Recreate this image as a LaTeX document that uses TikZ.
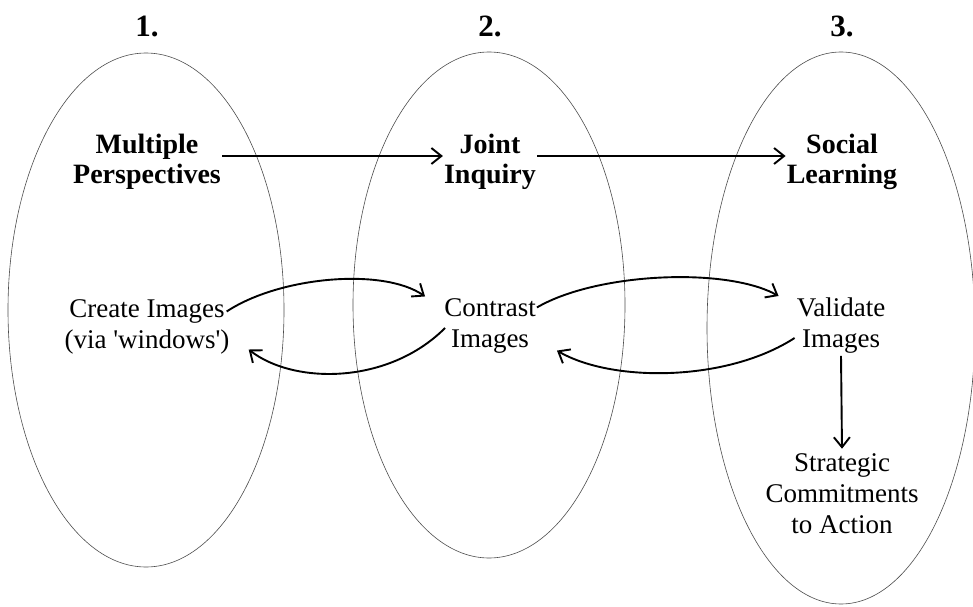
\documentclass[tikz,border=0pt]{standalone}
\usepackage{fontspec}
\setmainfont{Liberation Serif}
\usetikzlibrary{arrows.meta,calc}
\begin{document}
\begin{tikzpicture}[x=1pt,y=1pt,
  oval/.style={draw=black!70,line width=0.6pt},
  title/.style={font=\fontsize{31}{31}\selectfont\bfseries,anchor=base},
  head/.style={font=\fontsize{28}{30}\selectfont\bfseries,align=center,inner sep=1pt},
  body/.style={font=\fontsize{27}{31}\selectfont,align=center,inner sep=1pt},
  arr/.style={line width=1.9pt,-{Straight Barb[length=10pt,width=16pt,line width=1.9pt]}}
]
\useasboundingbox (0,0) rectangle (973,606);
% ellipses
\draw[oval] (146,296) ellipse [x radius=138, y radius=257];
\draw[oval] (489,301) ellipse [x radius=136, y radius=253];
\draw[oval] (841,278) ellipse [x radius=134, y radius=276];
% titles
\node[title] (t1) at (147,569) {1.};
\node[title] (t2) at (490,569) {2.};
\node[title] (t3) at (842,569) {3.};
% headings
\node[head] (multi) at (147,444) {Multiple\\Perspectives};
\node[head] (joint) at (490,444) {Joint\\Inquiry};
\node[head] (social) at (842,444) {Social\\Learning};
% body
\node[body] (create) at (147,279) {Create Images\\(via \textquotesingle windows\textquotesingle)};
\node[body] (contrast) at (490,280) {Contrast\\Images};
\node[body] (validate) at (841,280) {Validate\\Images};
\node[body] (strat) at (842,112) {Strategic\\Commitments\\to Action};
% arrows
\draw[arr] ([yshift=6pt]multi.east) -- ([yshift=6pt]joint.west);
\draw[arr] ([yshift=6pt]joint.east) -- ([yshift=6pt]social.west);
\draw[arr] ([xshift=-4pt,yshift=-13pt]create.north east) .. controls +(53,35) and +(-42,29) .. ([xshift=-18pt,yshift=1pt]contrast.north west);
\draw[arr] ([xshift=2pt,yshift=-2pt]contrast.west) .. controls +(-57,-57) and +(45,-35) .. ([xshift=18pt,yshift=6pt]create.south east);
\draw[arr] ([yshift=-10pt]contrast.north east) .. controls +(60,35) and +(-52,29) .. ([xshift=-17pt,yshift=1pt]validate.north west);
\draw[arr] ([xshift=-1pt,yshift=-12pt]validate.west) .. controls +(-68,-44) and +(55,-32) .. ([xshift=20pt,yshift=4pt]contrast.south east);
\draw[arr] ([yshift=-1pt]validate.south) -- ([yshift=4pt]strat.north);
\end{tikzpicture}
\end{document}
